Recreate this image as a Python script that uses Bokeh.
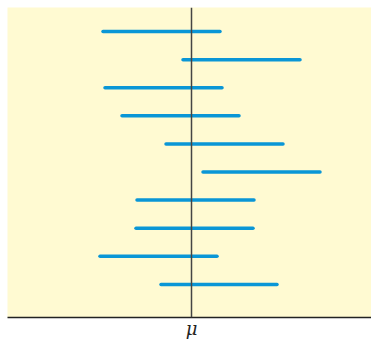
from bokeh.plotting import figure
from bokeh.models import Span, FixedTicker, Range1d
from bokeh.embed import file_html
from bokeh.resources import INLINE

# confidence intervals (offset from mu), sample index from top
samples = [10, 9, 8, 7, 6, 5, 4, 3, 2, 1]
lows = [-88.5, -8.5, -86.5, -69.5, -25.5, 11.5, -54.5, -55.5, -91.5, -30.5]
highs = [28.5, 108.5, 30.5, 47.5, 91.5, 128.5, 62.5, 61.5, 25.5, 85.5]
mu = 0
tick_labels = {0: "μ"}

p = figure(width=371, height=341, output_backend="svg", toolbar_location=None,
           x_range=Range1d(-184, 180), y_range=Range1d(-0.179, 10.857),
           min_border_left=7, min_border_right=0, min_border_top=7, min_border_bottom=24)
p.background_fill_color = "#fffad2"
p.border_fill_color = "white"
p.outline_line_color = None
p.grid.visible = False
p.yaxis.visible = False

p.segment(x0=lows, x1=highs, y0=samples, y1=samples, line_color="#0a96d6",
          line_width=3.5, line_cap="round")

p.add_layout(Span(location=mu, dimension="height", line_color="#444444", line_width=1.5))

ax = p.xaxis[0]
ax.ticker = FixedTicker(ticks=[mu])
ax.major_label_overrides = tick_labels
ax.major_tick_line_color = None
ax.minor_tick_line_color = None
ax.major_tick_out = 0
ax.major_tick_in = 0
ax.axis_line_color = "#222222"
ax.axis_line_width = 1.5
ax.major_label_text_font_size = "18px"
ax.major_label_text_font = "DejaVu Serif"
ax.major_label_text_font_style = "italic"
ax.major_label_text_color = "#222222"
ax.major_label_standoff = 0

open("out.html", "w").write(file_html(p, INLINE))
